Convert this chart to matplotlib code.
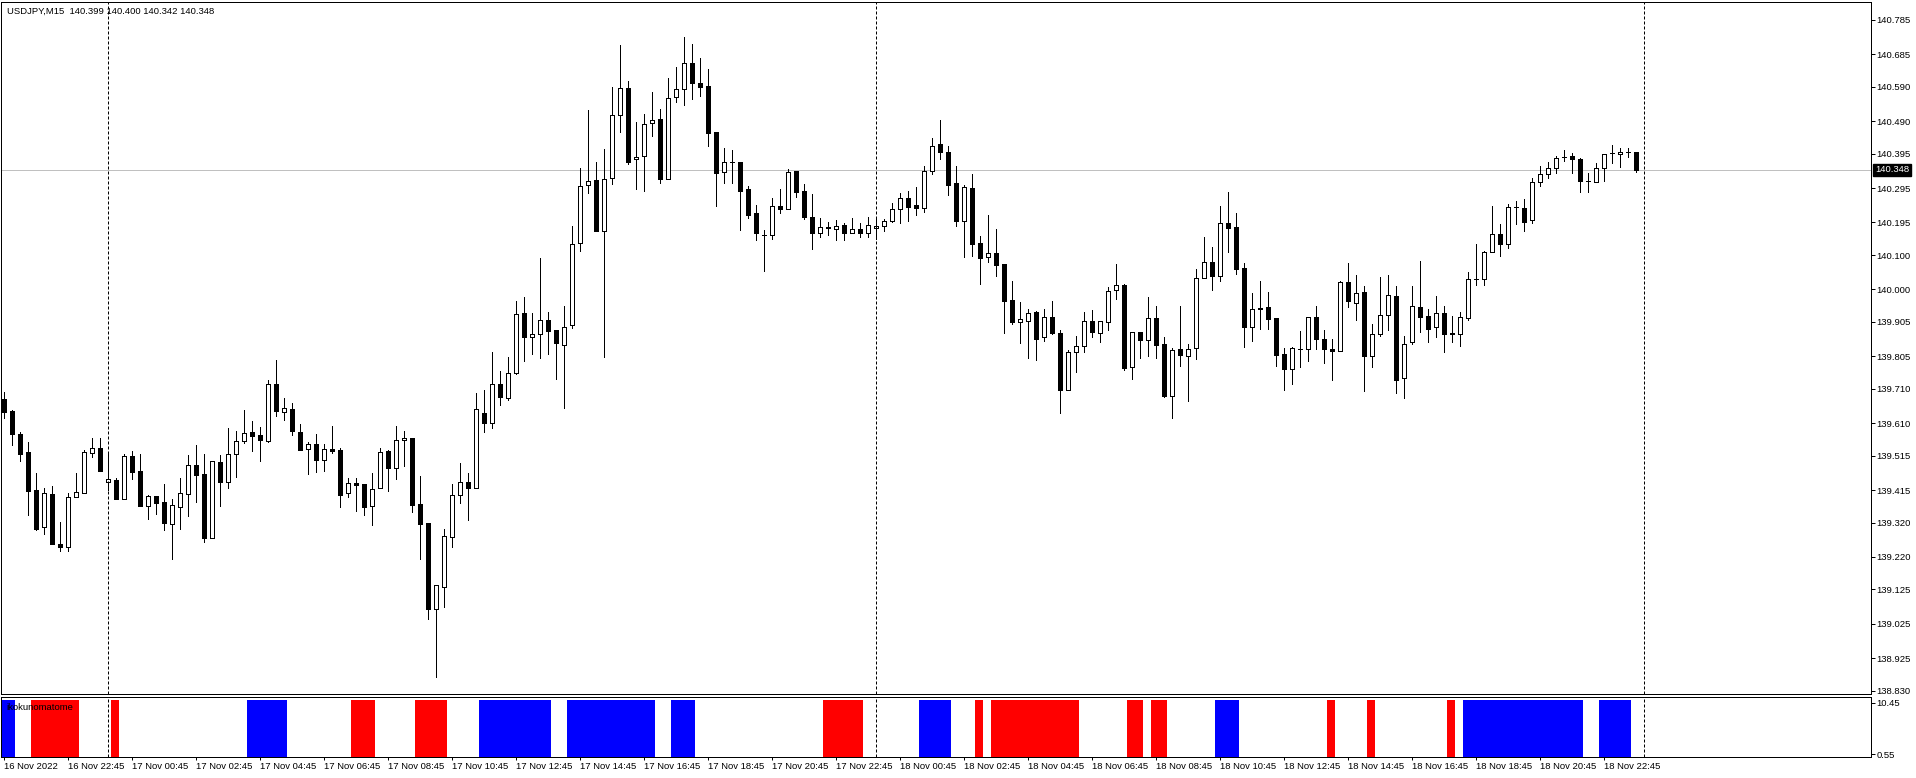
import matplotlib
matplotlib.use("Agg")
import matplotlib.pyplot as plt
from matplotlib.patches import Rectangle
from matplotlib.transforms import blended_transform_factory

plt.rcParams["font.family"] = ["Liberation Sans", "DejaVu Sans"]

# ---------------- data ----------------
symbol = "USDJPY,M15"
header_values = "140.399 140.400 140.342 140.348"

opens = [139.679, 139.645, 139.578, 139.525, 139.415, 139.306, 139.403, 139.257, 139.250, 139.394,
         139.407, 139.522, 139.536, 139.437, 139.444, 139.388, 139.513, 139.470, 139.369, 139.398,
         139.380, 139.316, 139.365, 139.402, 139.487, 139.461, 139.276, 139.496, 139.439, 139.521,
         139.559, 139.583, 139.574, 139.559, 139.724, 139.643, 139.650, 139.585, 139.534, 139.549,
         139.503, 139.534, 139.531, 139.405, 139.434, 139.432, 139.369, 139.420, 139.528, 139.480,
         139.560, 139.567, 139.374, 139.318, 139.069, 139.133, 139.277, 139.400, 139.437, 139.421,
         139.639, 139.610, 139.724, 139.682, 139.755, 139.930, 139.860, 139.869, 139.912, 139.881,
         139.839, 139.895, 140.134, 140.303, 140.319, 140.170, 140.324, 140.507, 140.586, 140.379,
         140.389, 140.484, 140.496, 140.321, 140.560, 140.583, 140.659, 140.600, 140.593, 140.458,
         140.341, 140.370, 140.370, 140.292, 140.222, 140.158, 140.157, 140.243, 140.233, 140.345,
         140.286, 140.211, 140.163, 140.182, 140.176, 140.187, 140.165, 140.176, 140.165, 140.178,
         140.184, 140.200, 140.233, 140.265, 140.245, 140.236, 140.346, 140.423, 140.399, 140.310,
         140.198, 140.294, 140.134, 140.093, 140.105, 140.074, 139.969, 139.905, 139.908, 139.933,
         139.861, 139.918, 139.874, 139.707, 139.818, 139.835, 139.907, 139.874, 139.905, 139.997,
         140.012, 139.774, 139.877, 139.853, 139.915, 139.840, 139.690, 139.825, 139.806, 139.828,
         140.032, 140.079, 140.040, 140.192, 140.181, 140.061, 139.891, 139.946, 139.947, 139.915,
         139.811, 139.767, 139.827, 139.825, 139.920, 139.854, 139.825, 139.819, 140.022, 139.961,
         139.991, 139.806, 139.871, 139.924, 139.980, 139.741, 139.845, 139.947, 139.922, 139.889,
         139.930, 139.873, 139.869, 139.917, 140.029, 140.029, 140.108, 140.160, 140.131, 140.239,
         140.236, 140.201, 140.312, 140.335, 140.353, 140.386, 140.388, 140.380, 140.316, 140.314,
         140.354, 140.396, 140.393, 140.401, 140.399]

highs = [139.701, 139.648, 139.585, 139.556, 139.465, 139.420, 139.427, 139.322, 139.405, 139.465,
         139.531, 139.566, 139.566, 139.523, 139.449, 139.520, 139.528, 139.520, 139.401, 139.398,
         139.432, 139.389, 139.450, 139.517, 139.546, 139.520, 139.499, 139.517, 139.596, 139.586,
         139.648, 139.616, 139.599, 139.735, 139.794, 139.682, 139.670, 139.607, 139.556, 139.578,
         139.548, 139.601, 139.536, 139.449, 139.449, 139.432, 139.466, 139.536, 139.531, 139.601,
         139.587, 139.567, 139.456, 139.318, 139.137, 139.301, 139.432, 139.493, 139.464, 139.699,
         139.706, 139.818, 139.762, 139.803, 139.966, 139.978, 139.930, 140.092, 139.934, 139.881,
         139.951, 140.184, 140.353, 140.523, 140.370, 140.408, 140.589, 140.712, 140.607, 140.487,
         140.510, 140.575, 140.526, 140.616, 140.648, 140.735, 140.715, 140.673, 140.642, 140.458,
         140.411, 140.406, 140.370, 140.301, 140.246, 140.173, 140.265, 140.291, 140.350, 140.346,
         140.306, 140.277, 140.207, 140.195, 140.202, 140.192, 140.207, 140.192, 140.212, 140.207,
         140.205, 140.251, 140.280, 140.286, 140.297, 140.359, 140.440, 140.494, 140.418, 140.359,
         140.304, 140.336, 140.155, 140.216, 140.176, 140.074, 140.024, 139.964, 139.944, 139.937,
         139.944, 139.966, 139.881, 139.823, 139.864, 139.934, 139.939, 139.907, 140.006, 140.074,
         140.015, 139.877, 139.877, 139.977, 139.951, 139.860, 139.830, 139.951, 139.842, 140.059,
         140.153, 140.124, 140.243, 140.284, 140.221, 140.076, 139.988, 140.024, 139.991, 139.915,
         139.828, 139.832, 139.878, 139.920, 139.951, 139.881, 139.854, 140.024, 140.076, 140.041,
         140.009, 139.898, 140.037, 140.041, 140.009, 139.864, 140.009, 140.082, 139.944, 139.980,
         139.951, 139.922, 139.934, 140.051, 140.132, 140.113, 140.243, 140.190, 140.249, 140.257,
         140.262, 140.324, 140.359, 140.370, 140.388, 140.406, 140.396, 140.382, 140.340, 140.367,
         140.393, 140.421, 140.411, 140.411, 140.400]

lows = [139.624, 139.546, 139.500, 139.342, 139.298, 139.286, 139.257, 139.238, 139.238, 139.394,
        139.407, 139.512, 139.471, 139.415, 139.388, 139.388, 139.448, 139.369, 139.331, 139.346,
        139.299, 139.215, 139.302, 139.340, 139.381, 139.264, 139.276, 139.368, 139.421, 139.454,
        139.553, 139.528, 139.499, 139.555, 139.632, 139.619, 139.575, 139.531, 139.461, 139.468,
        139.471, 139.522, 139.366, 139.394, 139.355, 139.342, 139.313, 139.420, 139.413, 139.446,
        139.485, 139.352, 139.215, 139.039, 138.871, 139.074, 139.250, 139.378, 139.327, 139.421,
        139.584, 139.596, 139.662, 139.677, 139.752, 139.792, 139.811, 139.799, 139.811, 139.740,
        139.653, 139.886, 140.113, 140.280, 140.170, 139.803, 140.306, 140.459, 140.364, 140.293,
        140.287, 140.448, 140.311, 140.321, 140.547, 140.537, 140.556, 140.564, 140.419, 140.243,
        140.309, 140.311, 140.173, 140.208, 140.144, 140.054, 140.146, 140.221, 140.233, 140.270,
        140.205, 140.117, 140.153, 140.158, 140.144, 140.144, 140.163, 140.153, 140.153, 140.148,
        140.170, 140.197, 140.194, 140.200, 140.217, 140.226, 140.336, 140.380, 140.275, 140.184,
        140.095, 140.097, 140.015, 140.080, 140.039, 139.873, 139.898, 139.844, 139.800, 139.794,
        139.850, 139.871, 139.640, 139.707, 139.760, 139.818, 139.861, 139.847, 139.881, 139.972,
        139.766, 139.739, 139.800, 139.805, 139.800, 139.687, 139.626, 139.777, 139.675, 139.796,
        140.032, 139.998, 140.025, 140.110, 140.046, 139.833, 139.850, 139.884, 139.884, 139.777,
        139.707, 139.723, 139.773, 139.792, 139.825, 139.784, 139.737, 139.819, 139.949, 139.910,
        139.704, 139.774, 139.865, 139.881, 139.698, 139.684, 139.842, 139.876, 139.847, 139.862,
        139.818, 139.845, 139.835, 139.912, 140.012, 140.012, 140.108, 140.097, 140.119, 140.189,
        140.171, 140.192, 140.302, 140.323, 140.338, 140.375, 140.338, 140.284, 140.284, 140.314,
        140.316, 140.369, 140.357, 140.385, 140.342]

closes = [139.643, 139.577, 139.520, 139.413, 139.301, 139.405, 139.259, 139.250, 139.394, 139.408,
          139.525, 139.536, 139.471, 139.446, 139.388, 139.513, 139.468, 139.369, 139.398, 139.378,
          139.319, 139.371, 139.405, 139.487, 139.459, 139.276, 139.499, 139.439, 139.520, 139.557,
          139.581, 139.573, 139.561, 139.724, 139.646, 139.653, 139.588, 139.531, 139.548, 139.502,
          139.534, 139.528, 139.400, 139.434, 139.430, 139.366, 139.418, 139.525, 139.480, 139.560,
          139.566, 139.372, 139.316, 139.069, 139.137, 139.281, 139.400, 139.437, 139.421, 139.650,
          139.610, 139.723, 139.685, 139.755, 139.927, 139.860, 139.871, 139.912, 139.879, 139.844,
          139.891, 140.131, 140.302, 140.316, 140.170, 140.321, 140.507, 140.586, 140.372, 140.385,
          140.481, 140.493, 140.321, 140.557, 140.583, 140.659, 140.602, 140.589, 140.456, 140.340,
          140.370, 140.370, 140.287, 140.218, 140.163, 140.158, 140.243, 140.233, 140.343, 140.284,
          140.211, 140.165, 140.182, 140.178, 140.185, 140.165, 140.175, 140.165, 140.187, 140.185,
          140.200, 140.235, 140.265, 140.239, 140.236, 140.346, 140.418, 140.399, 140.305, 140.198,
          140.297, 140.132, 140.092, 140.105, 140.072, 139.967, 139.905, 139.913, 139.930, 139.856,
          139.918, 139.873, 139.707, 139.816, 139.835, 139.909, 139.876, 139.907, 139.994, 140.012,
          139.772, 139.877, 139.853, 139.915, 139.838, 139.690, 139.823, 139.809, 139.825, 140.032,
          140.079, 140.040, 140.192, 140.179, 140.060, 139.891, 139.944, 139.944, 139.914, 139.808,
          139.768, 139.828, 139.827, 139.920, 139.854, 139.825, 139.819, 140.020, 139.965, 139.988,
          139.806, 139.871, 139.924, 139.983, 139.737, 139.842, 139.951, 139.920, 139.885, 139.930,
          139.869, 139.869, 139.918, 140.029, 140.029, 140.108, 140.160, 140.131, 140.239, 140.239,
          140.197, 140.312, 140.335, 140.353, 140.382, 140.386, 140.379, 140.316, 140.316, 140.353,
          140.393, 140.396, 140.401, 140.401, 140.348]

price_ticks = [140.785, 140.685, 140.590, 140.490, 140.395, 140.295, 140.195, 140.100, 140.000,
               139.905, 139.805, 139.710, 139.610, 139.515, 139.415, 139.320, 139.220, 139.125,
               139.025, 138.925, 138.830]
last_price = 140.348

time_labels = ["16 Nov 2022", "16 Nov 22:45", "17 Nov 00:45", "17 Nov 02:45", "17 Nov 04:45",
               "17 Nov 06:45", "17 Nov 08:45", "17 Nov 10:45", "17 Nov 12:45", "17 Nov 14:45",
               "17 Nov 16:45", "17 Nov 18:45", "17 Nov 20:45", "17 Nov 22:45", "18 Nov 00:45",
               "18 Nov 02:45", "18 Nov 04:45", "18 Nov 06:45", "18 Nov 08:45", "18 Nov 10:45",
               "18 Nov 12:45", "18 Nov 14:45", "18 Nov 16:45", "18 Nov 18:45", "18 Nov 20:45",
               "18 Nov 22:45"]
time_label_step = 8
day_separators = [13, 109, 205]

indicator_name = "ikokunomatome"
blue_runs = [(0, 1), (31, 35), (60, 68), (71, 81), (84, 86), (115, 118), (152, 154),
             (183, 197), (200, 203)]
red_runs = [(4, 9), (14, 14), (44, 46), (52, 55), (103, 107), (122, 122), (124, 134),
            (141, 142), (144, 145), (166, 166), (171, 171), (181, 181)]
indicator_level = 11.0
indicator_ticks = [10.45, 0.55]

# ---------------- layout ----------------
W, H, DPI = 1916, 778, 100
FS = 6.8
LW = 0.72  # ~1 px


def fx(px):
    return px / W


def fy(py):
    return 1 - py / H


fig = plt.figure(figsize=(W / DPI, H / DPI), dpi=DPI)
fig.patch.set_facecolor("white")

left_px, right_px = 1, 1870.5
ax = fig.add_axes([fx(left_px), fy(694), fx(right_px) - fx(left_px), fy(2) - fy(694)])
axi = fig.add_axes([fx(left_px), fy(757), fx(right_px) - fx(left_px), fy(697) - fy(757)])

bar_px, x0_px = 8.0, 4.0
xlim = ((left_px - x0_px) / bar_px, (right_px - x0_px) / bar_px)

# price scale: 343.07 px per unit, 140.785 at y=20 px
px_per_unit = 343.07
ymax = 140.785 + (20 - 2) / px_per_unit
ymin = 140.785 - (694 - 20) / px_per_unit

# ---------------- candles ----------------
bw = 0.5
for i, (o, h, l, c) in enumerate(zip(opens, highs, lows, closes)):
    ax.plot([i, i], [l, h], color="black", lw=LW, antialiased=False, zorder=2,
            solid_capstyle="butt")
    if c == o:
        ax.plot([i - bw / 2, i + bw / 2], [o, o], color="black", lw=LW,
                antialiased=False, zorder=3)
    else:
        fc = "white" if c > o else "black"
        ax.add_patch(Rectangle((i - bw / 2, min(o, c)), bw, abs(c - o), facecolor=fc,
                               edgecolor="black", lw=LW, antialiased=False, zorder=3))

ax.axhline(last_price, color="#c0c0c0", lw=LW, zorder=1)
for s in day_separators:
    ax.axvline(s, color="black", lw=LW, linestyle=(0, (3, 2)), zorder=4)

ax.set_xlim(*xlim)
ax.set_ylim(ymin, ymax)
ax.set_xticks([])
ax.set_yticks(price_ticks)
ax.set_yticklabels([f"{v:.3f}" for v in price_ticks])
ax.tick_params(axis="y", left=False, right=True, labelleft=False, labelright=True,
               direction="out", length=3, width=LW, pad=1.5, labelsize=FS, colors="black")
for sp in ax.spines.values():
    sp.set_linewidth(LW)
    sp.set_color("black")

# current price box
trans = blended_transform_factory(fig.transFigure, ax.transData)
ax.text(fx(1875), last_price, f"{last_price:.3f}", transform=trans, ha="left", va="center",
        fontsize=FS, color="white", zorder=10, clip_on=False,
        bbox=dict(boxstyle="square,pad=0.18", fc="black", ec="black"))

fig.text(fx(7), fy(11), f"{symbol}  {header_values}", ha="left", va="center",
         fontsize=FS, color="black")

# ---------------- indicator panel ----------------
for runs, col in ((blue_runs, "#0000ff"), (red_runs, "#ff0000")):
    for a, b in runs:
        idx = list(range(a, b + 1))
        axi.bar([k - 0.125 for k in idx], [indicator_level] * len(idx), width=1.0,
                color=col, linewidth=0, zorder=2)
for s in day_separators:
    axi.axvline(s, color="black", lw=LW, linestyle=(0, (3, 2)), zorder=4)

axi.set_xlim(*xlim)
axi.set_ylim(0, indicator_level + 3 * indicator_level / 57)
axi.set_yticks(indicator_ticks)
axi.set_yticklabels([f"{v:.2f}" for v in indicator_ticks])
axi.tick_params(axis="y", left=False, right=True, labelleft=False, labelright=True,
                direction="out", length=3, width=LW, pad=1.5, labelsize=FS)
tick_pos = [k * time_label_step for k in range(len(time_labels))]
axi.set_xticks(tick_pos)
axi.set_xticklabels(time_labels, ha="left")
axi.tick_params(axis="x", direction="out", length=2.2, width=LW, pad=1.2, labelsize=FS)
for sp in axi.spines.values():
    sp.set_linewidth(LW)
    sp.set_color("black")
axi.text(fx(6), fy(707), indicator_name, transform=fig.transFigure, ha="left", va="center",
         fontsize=FS, color="black", zorder=10)

fig.savefig("out.png", dpi=DPI, facecolor="white")
